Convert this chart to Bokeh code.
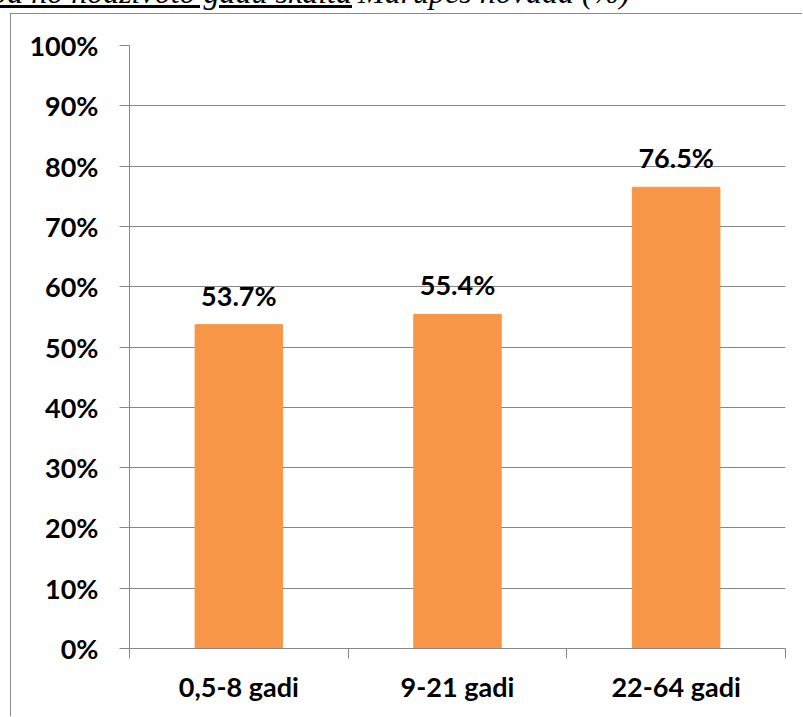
from bokeh.plotting import figure
from bokeh.layouts import column
from bokeh.models import (ColumnDataSource, LabelSet, Div,
                          FixedTicker, PrintfTickFormatter, Range1d)
from bokeh.core.properties import value
from bokeh.embed import file_html
from bokeh.resources import INLINE

# Data
categories = ["0,5-8 gadi", "9-21 gadi", "22-64 gadi"]
shares = [53.7, 55.4, 76.5]
y_ticks = [0, 10, 20, 30, 40, 50, 60, 70, 80, 90, 100]
title_underlined = "Iedzīvotāju apmierinātība no nodzīvoto gadu skaita"
title_rest = "Mārupes novadā (%)"

AXIS_GREY = "#868686"
FRAME_GREY = "#8a8a8a"
BAR_ORANGE = "#F79646"
FONT = "Lato"
TITLE_FONT = "Liberation Serif"

# page geometry: caption strip, then the bordered chart object
PAGE_W, PAGE_H = 803, 717
CAPTION_H = 13
BOX_LEFT = 10
BORDER = 1

centers = [i + 0.5 for i in range(len(categories))]
bounds = list(range(len(categories) + 1))

src = ColumnDataSource(dict(
    x=centers,
    top=shares,
    label=[f"{v:.1f}%" for v in shares],
))

# caption line running above the chart box (its upper part lies off the page)
caption_html = (
    f'<div style="position:relative;width:{PAGE_W}px;height:{CAPTION_H}px;'
    f'overflow:hidden;font-family:\'{TITLE_FONT}\';font-style:italic;'
    f'font-size:32px;line-height:32px;color:black;white-space:nowrap;">'
    f'<span style="position:absolute;right:{PAGE_W - 352}px;top:-24px;'
    f'text-decoration:underline;">{title_underlined}</span>'
    f'<span style="position:absolute;left:358px;top:-24px;">{title_rest}</span>'
    f'</div>'
)
caption = Div(text=caption_html, width=PAGE_W, height=CAPTION_H,
              styles={"overflow": "hidden", "margin": "0", "padding": "0"})

plot_w = PAGE_W - BOX_LEFT - BORDER
plot_h = PAGE_H - CAPTION_H - BORDER

p = figure(width=plot_w, height=plot_h,
           x_range=Range1d(0, len(categories)), y_range=Range1d(0, 100),
           output_backend="svg", toolbar_location=None,
           min_border_left=129 - BOX_LEFT - BORDER, min_border_right=18,
           min_border_top=45 - CAPTION_H - BORDER, min_border_bottom=69)
p.styles = {
    "margin-left": f"{BOX_LEFT}px",
    "border-left": f"{BORDER}px solid {FRAME_GREY}",
    "border-top": f"{BORDER}px solid {FRAME_GREY}",
}
p.outline_line_color = None
p.background_fill_color = "white"
p.border_fill_color = "white"

p.vbar(x="x", top="top", width=0.4, source=src,
       fill_color=BAR_ORANGE, line_color=BAR_ORANGE)

# value labels above the bars
p.add_layout(LabelSet(x="x", y="top", text="label", source=src,
                      y_offset=19, text_align="center", text_baseline="alphabetic",
                      text_font=value(FONT), text_font_style="bold",
                      text_font_size="27px", text_color="black"))

# x axis: ticks between categories, labels at the centres
xa = p.xaxis[0]
xa.ticker = FixedTicker(ticks=centers, minor_ticks=bounds)
xa.major_label_overrides = {c: name for c, name in zip(centers, categories)}
xa.axis_line_color = AXIS_GREY
xa.major_tick_out = 0
xa.major_tick_in = 0
xa.minor_tick_out = 10
xa.minor_tick_in = 0
xa.minor_tick_line_color = AXIS_GREY
xa.major_label_standoff = 11
xa.major_label_text_font = FONT
xa.major_label_text_font_style = "bold"
xa.major_label_text_font_size = "27px"
xa.major_label_text_color = "black"

# y axis
ya = p.yaxis[0]
ya.ticker = FixedTicker(ticks=y_ticks)
ya.formatter = PrintfTickFormatter(format="%d%%")
ya.axis_line_color = AXIS_GREY
ya.major_tick_line_color = AXIS_GREY
ya.major_tick_out = 10
ya.major_tick_in = 0
ya.minor_tick_line_color = None
ya.major_label_standoff = 21
ya.major_label_text_font = FONT
ya.major_label_text_font_style = "bold"
ya.major_label_text_font_size = "27px"
ya.major_label_text_color = "black"

p.xgrid.visible = False
p.ygrid.ticker = FixedTicker(ticks=y_ticks)
p.ygrid.grid_line_color = AXIS_GREY
p.ygrid.grid_line_width = 1

layout = column(caption, p, spacing=0)
open("out.html", "w").write(file_html(layout, INLINE))
